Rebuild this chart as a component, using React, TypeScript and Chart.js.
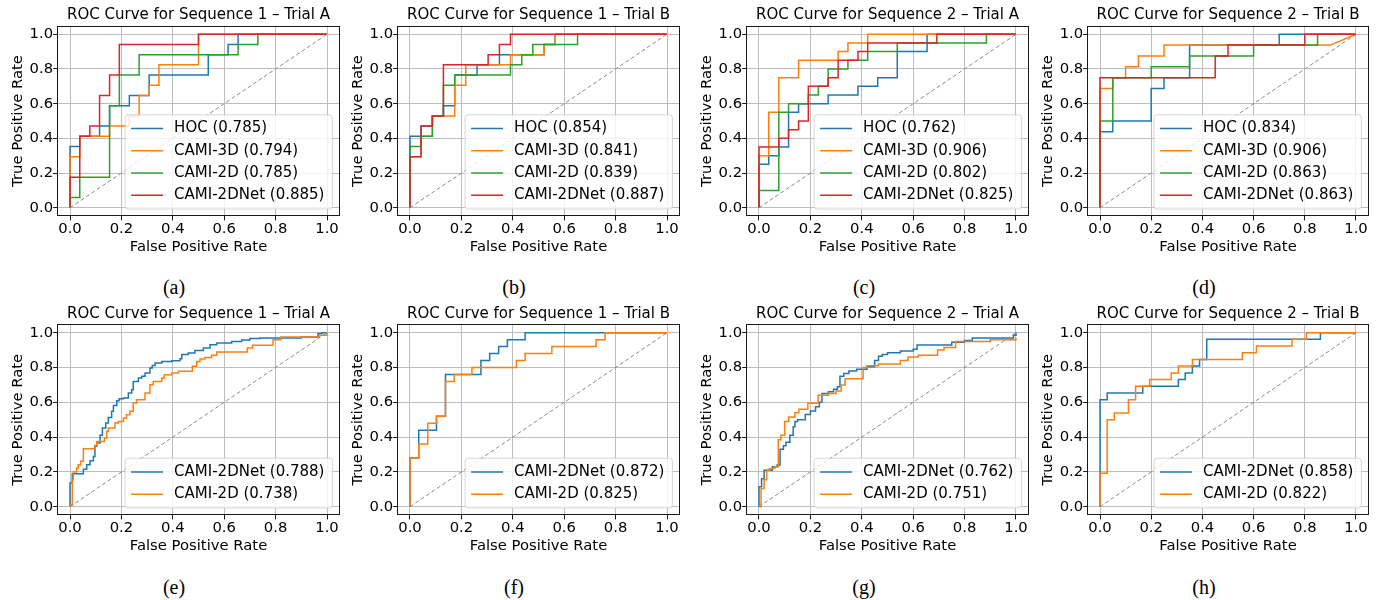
import React, { useEffect, useRef } from 'react';
import { Chart, registerables } from 'chart.js';
Chart.register(...registerables);

type Pt = [number, number];

// ---------- shared axis data ----------
const tickValues = [0, 0.2, 0.4, 0.6, 0.8, 1.0];
const tickLabels = ['0.0', '0.2', '0.4', '0.6', '0.8', '1.0'];
const diagonal: Pt[] = [[0, 0], [1, 1]];
const xAxisLabel = 'False Positive Rate';
const yAxisLabel = 'True Positive Rate';

const titles = [
  'ROC Curve for Sequence 1 – Trial A',
  'ROC Curve for Sequence 1 – Trial B',
  'ROC Curve for Sequence 2 – Trial A',
  'ROC Curve for Sequence 2 – Trial B',
];
const letters = ['(a)', '(b)', '(c)', '(d)', '(e)', '(f)', '(g)', '(h)'];

const namesTop = ['HOC', 'CAMI-3D', 'CAMI-2D', 'CAMI-2DNet'];
const namesBottom = ['CAMI-2DNet', 'CAMI-2D'];

const aucA = ['0.785', '0.794', '0.785', '0.885'];
const aucB = ['0.854', '0.841', '0.839', '0.887'];
const aucC = ['0.762', '0.906', '0.802', '0.825'];
const aucD = ['0.834', '0.906', '0.863', '0.863'];
const aucE = ['0.788', '0.738'];
const aucF = ['0.872', '0.825'];
const aucG = ['0.762', '0.751'];
const aucH = ['0.858', '0.822'];

// ---------- panel (a) ----------
const aHOC: Pt[] = [[0,0],[0,0.353],[0.038,0.353],[0.038,0.412],[0.115,0.412],[0.115,0.471],[0.154,0.471],[0.154,0.588],[0.231,0.588],[0.231,0.647],[0.308,0.647],[0.308,0.765],[0.538,0.765],[0.538,0.882],[0.615,0.882],[0.615,0.941],[0.654,0.941],[0.654,1],[1,1]];
const aCAMI3D: Pt[] = [[0,0],[0,0.294],[0.038,0.294],[0.038,0.412],[0.154,0.412],[0.154,0.471],[0.231,0.471],[0.231,0.529],[0.269,0.529],[0.269,0.647],[0.308,0.647],[0.308,0.706],[0.346,0.706],[0.346,0.824],[0.5,0.824],[0.5,1],[1,1]];
const aCAMI2D: Pt[] = [[0,0],[0,0.059],[0.038,0.059],[0.038,0.176],[0.154,0.176],[0.154,0.588],[0.192,0.588],[0.192,0.765],[0.269,0.765],[0.269,0.882],[0.654,0.882],[0.654,0.941],[0.731,0.941],[0.731,1],[1,1]];
const aNet: Pt[] = [[0,0],[0,0.176],[0.038,0.176],[0.038,0.412],[0.077,0.412],[0.077,0.471],[0.115,0.471],[0.115,0.647],[0.154,0.647],[0.154,0.765],[0.192,0.765],[0.192,0.941],[0.5,0.941],[0.5,1],[1,1]];

// ---------- panel (b) ----------
const bHOC: Pt[] = [[0,0],[0,0.412],[0.043,0.412],[0.043,0.471],[0.087,0.471],[0.087,0.529],[0.13,0.529],[0.13,0.588],[0.174,0.588],[0.174,0.765],[0.261,0.765],[0.261,0.824],[0.348,0.824],[0.348,0.882],[0.522,0.882],[0.522,0.941],[0.565,0.941],[0.565,1],[1,1]];
const bCAMI3D: Pt[] = [[0,0],[0,0.294],[0.043,0.294],[0.043,0.412],[0.087,0.412],[0.087,0.529],[0.174,0.529],[0.174,0.706],[0.217,0.706],[0.217,0.824],[0.391,0.824],[0.391,0.882],[0.522,0.882],[0.522,0.941],[0.565,0.941],[0.565,1],[1,1]];
const bCAMI2D: Pt[] = [[0,0],[0,0.353],[0.043,0.353],[0.043,0.412],[0.087,0.412],[0.087,0.529],[0.13,0.529],[0.13,0.706],[0.174,0.706],[0.174,0.765],[0.391,0.765],[0.391,0.824],[0.435,0.824],[0.435,0.882],[0.478,0.882],[0.478,0.941],[0.652,0.941],[0.652,1],[1,1]];
const bNet: Pt[] = [[0,0],[0,0.294],[0.043,0.294],[0.043,0.471],[0.087,0.471],[0.087,0.529],[0.13,0.529],[0.13,0.824],[0.304,0.824],[0.304,0.882],[0.348,0.882],[0.348,0.941],[0.391,0.941],[0.391,1],[1,1]];

// ---------- panel (c) ----------
const cHOC: Pt[] = [[0,0],[0,0.25],[0.038,0.25],[0.038,0.3],[0.077,0.3],[0.077,0.35],[0.115,0.35],[0.115,0.55],[0.154,0.55],[0.154,0.6],[0.269,0.6],[0.269,0.65],[0.385,0.65],[0.385,0.7],[0.462,0.7],[0.462,0.75],[0.538,0.75],[0.538,0.9],[0.654,0.9],[0.654,1],[1,1]];
const cCAMI3D: Pt[] = [[0,0],[0,0.3],[0.038,0.3],[0.038,0.55],[0.077,0.55],[0.077,0.75],[0.154,0.75],[0.154,0.85],[0.308,0.85],[0.308,0.9],[0.346,0.9],[0.346,0.95],[0.423,0.95],[0.423,1],[1,1]];
const cCAMI2D: Pt[] = [[0,0],[0,0.1],[0.077,0.1],[0.077,0.55],[0.115,0.55],[0.115,0.6],[0.192,0.6],[0.192,0.65],[0.231,0.65],[0.231,0.7],[0.269,0.7],[0.269,0.8],[0.346,0.8],[0.346,0.85],[0.423,0.85],[0.423,0.9],[0.538,0.9],[0.538,0.95],[0.885,0.95],[0.885,1],[1,1]];
const cNet: Pt[] = [[0,0],[0,0.35],[0.077,0.35],[0.077,0.4],[0.115,0.4],[0.115,0.45],[0.154,0.45],[0.154,0.5],[0.192,0.5],[0.192,0.7],[0.269,0.7],[0.269,0.75],[0.308,0.75],[0.308,0.85],[0.385,0.85],[0.385,0.9],[0.423,0.9],[0.423,0.95],[0.692,0.95],[0.692,1],[1,1]];

// ---------- panel (d) ----------
const dHOC: Pt[] = [[0,0],[0,0.4375],[0.05,0.4375],[0.05,0.5],[0.2,0.5],[0.2,0.6875],[0.25,0.6875],[0.25,0.75],[0.35,0.75],[0.35,0.9375],[0.7,0.9375],[0.7,1],[1,1]];
const dCAMI3D: Pt[] = [[0,0],[0,0.6875],[0.05,0.6875],[0.05,0.75],[0.1,0.75],[0.1,0.8125],[0.15,0.8125],[0.15,0.875],[0.25,0.875],[0.25,0.9375],[0.9,0.9375],[1,1]];
const dCAMI2D: Pt[] = [[0,0],[0,0.5],[0.05,0.5],[0.05,0.75],[0.2,0.75],[0.2,0.8125],[0.35,0.8125],[0.35,0.875],[0.6,0.875],[0.6,0.9375],[0.85,0.9375],[0.85,1],[1,1]];
const dNet: Pt[] = [[0,0],[0,0.75],[0.45,0.75],[0.45,0.875],[0.5,0.875],[0.5,0.9375],[0.8,0.9375],[0.8,1],[1,1]];

// ---------- panel (e) ----------
const eNet: Pt[] = [[0,0],[0,0.136],[0.009,0.136],[0.009,0.19],[0.052,0.19],[0.052,0.215],[0.065,0.215],[0.065,0.241],[0.078,0.241],[0.078,0.264],[0.091,0.264],[0.091,0.289],[0.097,0.289],[0.097,0.347],[0.104,0.347],[0.104,0.366],[0.117,0.366],[0.117,0.41],[0.126,0.41],[0.126,0.452],[0.139,0.452],[0.139,0.481],[0.149,0.481],[0.149,0.513],[0.162,0.513],[0.162,0.548],[0.169,0.548],[0.169,0.582],[0.182,0.582],[0.182,0.609],[0.191,0.609],[0.191,0.621],[0.208,0.621],[0.208,0.625],[0.227,0.625],[0.227,0.653],[0.24,0.653],[0.24,0.672],[0.246,0.672],[0.246,0.72],[0.266,0.72],[0.266,0.739],[0.279,0.739],[0.279,0.749],[0.292,0.749],[0.292,0.768],[0.311,0.768],[0.311,0.797],[0.32,0.797],[0.32,0.812],[0.331,0.812],[0.331,0.826],[0.357,0.826],[0.357,0.835],[0.396,0.835],[0.396,0.839],[0.428,0.839],[0.428,0.851],[0.435,0.851],[0.435,0.874],[0.46,0.874],[0.46,0.883],[0.486,0.883],[0.486,0.897],[0.519,0.897],[0.519,0.912],[0.545,0.912],[0.545,0.931],[0.571,0.931],[0.571,0.941],[0.629,0.941],[0.629,0.95],[0.668,0.95],[0.668,0.958],[0.7,0.958],[0.7,0.966],[0.739,0.966],[0.739,0.969],[0.9,0.969],[0.9,0.975],[0.965,0.975],[0.965,0.995],[0.98,0.995],[0.98,1],[1,1]];
const eCAMI2D: Pt[] = [[0,0],[0,0.01],[0.009,0.01],[0.009,0.155],[0.013,0.155],[0.013,0.199],[0.026,0.199],[0.026,0.222],[0.032,0.222],[0.032,0.241],[0.042,0.241],[0.042,0.261],[0.052,0.261],[0.052,0.333],[0.097,0.333],[0.097,0.352],[0.104,0.352],[0.104,0.375],[0.134,0.375],[0.134,0.395],[0.143,0.395],[0.143,0.433],[0.149,0.433],[0.149,0.452],[0.175,0.452],[0.175,0.481],[0.188,0.481],[0.188,0.49],[0.208,0.49],[0.208,0.51],[0.22,0.51],[0.22,0.529],[0.233,0.529],[0.233,0.548],[0.246,0.548],[0.246,0.596],[0.259,0.596],[0.259,0.615],[0.292,0.615],[0.292,0.653],[0.311,0.653],[0.311,0.701],[0.324,0.701],[0.324,0.72],[0.357,0.72],[0.357,0.739],[0.367,0.739],[0.367,0.759],[0.396,0.759],[0.396,0.768],[0.422,0.768],[0.422,0.778],[0.476,0.778],[0.476,0.807],[0.493,0.807],[0.493,0.835],[0.506,0.835],[0.506,0.849],[0.525,0.849],[0.525,0.858],[0.551,0.858],[0.551,0.87],[0.571,0.87],[0.571,0.889],[0.69,0.889],[0.69,0.912],[0.71,0.912],[0.71,0.928],[0.79,0.928],[0.79,0.96],[0.82,0.96],[0.82,0.975],[0.97,0.975],[0.97,0.985],[1,0.985],[1,1]];

// ---------- panel (f) ----------
const fNet: Pt[] = [[0,0],[0,0.28],[0.034,0.28],[0.034,0.44],[0.103,0.44],[0.103,0.52],[0.138,0.52],[0.138,0.76],[0.276,0.76],[0.276,0.84],[0.31,0.84],[0.31,0.88],[0.345,0.88],[0.345,0.92],[0.379,0.92],[0.379,0.96],[0.448,0.96],[0.448,1],[1,1]];
const fCAMI2D: Pt[] = [[0,0],[0,0.28],[0.034,0.28],[0.034,0.36],[0.069,0.36],[0.069,0.48],[0.103,0.48],[0.103,0.52],[0.138,0.52],[0.138,0.72],[0.172,0.72],[0.172,0.76],[0.241,0.76],[0.241,0.8],[0.414,0.8],[0.414,0.84],[0.448,0.84],[0.448,0.88],[0.552,0.88],[0.552,0.92],[0.724,0.92],[0.724,0.96],[0.759,0.96],[0.759,1],[1,1]];

// ---------- panel (g) ----------
const gNet: Pt[] = [[0,0],[0,0.115],[0.01,0.115],[0.01,0.16],[0.02,0.16],[0.02,0.21],[0.052,0.21],[0.052,0.23],[0.07,0.23],[0.07,0.24],[0.082,0.24],[0.082,0.33],[0.095,0.33],[0.095,0.35],[0.105,0.35],[0.105,0.37],[0.12,0.37],[0.12,0.41],[0.133,0.41],[0.133,0.46],[0.14,0.46],[0.14,0.49],[0.15,0.49],[0.15,0.5],[0.18,0.5],[0.18,0.53],[0.2,0.53],[0.2,0.55],[0.22,0.55],[0.22,0.575],[0.235,0.575],[0.235,0.6],[0.245,0.6],[0.245,0.65],[0.27,0.65],[0.27,0.66],[0.29,0.66],[0.29,0.675],[0.305,0.675],[0.305,0.69],[0.315,0.69],[0.315,0.75],[0.33,0.75],[0.33,0.765],[0.35,0.765],[0.35,0.78],[0.38,0.78],[0.38,0.79],[0.42,0.79],[0.42,0.805],[0.45,0.805],[0.45,0.84],[0.465,0.84],[0.465,0.865],[0.48,0.865],[0.48,0.875],[0.5,0.875],[0.5,0.885],[0.55,0.885],[0.55,0.895],[0.6,0.895],[0.6,0.905],[0.615,0.905],[0.615,0.93],[0.75,0.93],[0.75,0.945],[0.8,0.945],[0.8,0.955],[0.83,0.955],[0.83,0.97],[0.99,0.97],[0.99,0.985],[1,0.985],[1,1]];
const gCAMI2D: Pt[] = [[0,0],[0.008,0],[0.008,0.105],[0.02,0.105],[0.02,0.155],[0.03,0.155],[0.03,0.21],[0.04,0.21],[0.04,0.22],[0.062,0.22],[0.062,0.23],[0.075,0.23],[0.075,0.385],[0.085,0.385],[0.085,0.41],[0.1,0.41],[0.1,0.49],[0.115,0.49],[0.115,0.515],[0.14,0.515],[0.14,0.54],[0.155,0.54],[0.155,0.56],[0.19,0.56],[0.19,0.595],[0.23,0.595],[0.23,0.64],[0.27,0.64],[0.27,0.65],[0.3,0.65],[0.3,0.665],[0.32,0.665],[0.32,0.7],[0.335,0.7],[0.335,0.735],[0.405,0.735],[0.405,0.8],[0.42,0.8],[0.42,0.81],[0.465,0.81],[0.465,0.82],[0.55,0.82],[0.55,0.84],[0.58,0.84],[0.58,0.86],[0.62,0.86],[0.62,0.87],[0.695,0.87],[0.695,0.9],[0.72,0.9],[0.72,0.915],[0.765,0.915],[0.765,0.95],[0.9,0.95],[0.9,0.96],[1,0.96],[1,0.97]];

// ---------- panel (h) ----------
const hNet: Pt[] = [[0,0],[0,0.615],[0.028,0.615],[0.028,0.654],[0.167,0.654],[0.167,0.692],[0.306,0.692],[0.306,0.731],[0.333,0.731],[0.333,0.769],[0.361,0.769],[0.361,0.808],[0.389,0.808],[0.389,0.846],[0.417,0.846],[0.417,0.962],[0.861,0.962],[0.861,1],[1,1]];
const hCAMI2D: Pt[] = [[0,0],[0,0.192],[0.028,0.192],[0.028,0.5],[0.056,0.5],[0.056,0.538],[0.111,0.538],[0.111,0.615],[0.139,0.615],[0.139,0.692],[0.194,0.692],[0.194,0.731],[0.278,0.731],[0.278,0.769],[0.306,0.769],[0.306,0.808],[0.361,0.808],[0.361,0.846],[0.556,0.846],[0.556,0.885],[0.611,0.885],[0.611,0.923],[0.75,0.923],[0.75,0.962],[0.806,0.962],[0.806,1],[1,1]];

// ---------- styling ----------
const COLORS = ['#1f77b4', '#ff7f0e', '#2ca02c', '#d62728'];
const FONT = 'DejaVu Sans';
const TICK_SIZE = 14.8;
const TITLE_SIZE = 15;
const LEGEND_SIZE = 15;

interface PanelCfg {
  title: string;
  letter: string;
  names: string[];
  aucs: string[];
  series: Pt[][];
  area: { l: number; r: number; t: number; b: number };
  letterX: number;
  letterY: number;
}

const colX = [
  { l: 57.15, r: 339.85, lx: 174 },
  { l: 397.15, r: 679.85, lx: 514 },
  { l: 746.15, r: 1028.85, lx: 864 },
  { l: 1087.2, r: 1368.8, lx: 1204 },
];
const rowY = [
  { t: 25.6, b: 216.4, ly: 287 },
  { t: 324, b: 515.4, ly: 587 },
];

const topSeries = [
  [aHOC, aCAMI3D, aCAMI2D, aNet],
  [bHOC, bCAMI3D, bCAMI2D, bNet],
  [cHOC, cCAMI3D, cCAMI2D, cNet],
  [dHOC, dCAMI3D, dCAMI2D, dNet],
];
const bottomSeries = [
  [eNet, eCAMI2D],
  [fNet, fCAMI2D],
  [gNet, gCAMI2D],
  [hNet, hCAMI2D],
];
const topAucs = [aucA, aucB, aucC, aucD];
const bottomAucs = [aucE, aucF, aucG, aucH];

const panels: PanelCfg[] = [];
for (let row = 0; row < 2; row++) {
  for (let col = 0; col < 4; col++) {
    panels.push({
      title: titles[col],
      letter: letters[row * 4 + col],
      names: row === 0 ? namesTop : namesBottom,
      aucs: row === 0 ? topAucs[col] : bottomAucs[col],
      series: row === 0 ? topSeries[col] : bottomSeries[col],
      area: { l: colX[col].l, r: colX[col].r, t: rowY[row].t, b: rowY[row].b },
      letterX: colX[col].lx,
      letterY: rowY[row].ly,
    });
  }
}

function makeOverlay(labels: string[], colors: string[]) {
  return {
    id: 'mplOverlay',
    afterDatasetsDraw(chart: any) {
      const { ctx, chartArea: a } = chart;
      ctx.save();
      // full box frame (matplotlib spines)
      ctx.strokeStyle = '#1a1a1a';
      ctx.lineWidth = 1;
      ctx.strokeRect(Math.round(a.left) + 0.5, Math.round(a.top) + 0.5, Math.round(a.right) - Math.round(a.left) - 1, Math.round(a.bottom) - Math.round(a.top) - 1);
      // legend
      ctx.font = `${LEGEND_SIZE}px "${FONT}"`;
      const tw = Math.max(...labels.map((l) => ctx.measureText(l).width));
      const n = labels.length;
      const pitch = 22.2;
      const edge = 13.8;
      const w = tw + 57;
      const h = (n - 1) * pitch + 2 * edge;
      const right = a.right - 7.4;
      const bottom = a.bottom - 7.4;
      const left = right - w;
      const top = bottom - h;
      ctx.beginPath();
      (ctx as any).roundRect(left, top, w, h, 3);
      ctx.fillStyle = 'rgba(255,255,255,0.8)';
      ctx.fill();
      ctx.strokeStyle = 'rgba(204,204,204,0.8)';
      ctx.lineWidth = 1;
      ctx.stroke();
      labels.forEach((l, i) => {
        const y = top + edge + i * pitch;
        ctx.strokeStyle = colors[i];
        ctx.lineWidth = 1.5;
        ctx.beginPath();
        ctx.moveTo(left + 6, y);
        ctx.lineTo(left + 38, y);
        ctx.stroke();
        ctx.fillStyle = '#000';
        ctx.textBaseline = 'middle';
        ctx.textAlign = 'left';
        ctx.fillText(l, left + 49, y);
      });
      ctx.restore();
    },
  };
}

function Panel({ p }: { p: PanelCfg }) {
  const ref = useRef<HTMLCanvasElement>(null);
  const cl = Math.floor(p.area.l - 57.15);
  const ct = Math.floor(p.area.t - 25.6);
  const cw = Math.ceil(p.area.r + 6) - cl;
  const ch = Math.ceil(p.area.b + 39.6) - ct;

  useEffect(() => {
    const yW = p.area.l - cl;
    const xH = ct + ch - p.area.b;
    const padR = cl + cw - p.area.r;
    const titleTop = p.area.t - ct - TITLE_SIZE * 1.2 - 1;
    const yTitlePad = yW - 38.85 - TICK_SIZE * 0.6;
    const n = p.series.length;
    const labels = p.names.map((nm, i) => `${nm} (${p.aucs[i]})`);
    const colors = COLORS.slice(0, n);
    const tickFont = { family: FONT, size: TICK_SIZE, lineHeight: 1.2 };
    const datasets: any[] = p.series.map((s, i) => ({
      label: labels[i],
      data: s.map(([x, y]) => ({ x, y })),
      borderColor: colors[i],
      borderWidth: 1.5,
      pointRadius: 0,
      tension: 0,
      fill: false,
      order: n - i,
    }));
    datasets.push({
      label: 'chance',
      data: diagonal.map(([x, y]) => ({ x, y })),
      borderColor: '#8a8a8a',
      borderWidth: 1,
      borderDash: [4, 2.5],
      pointRadius: 0,
      fill: false,
      order: 0,
    });
    const axisBase = (label: string, isX: boolean) => ({
      type: 'linear' as const,
      min: -0.05,
      max: 1.05,
      afterBuildTicks: (s: any) => {
        s.ticks = tickValues.map((v) => ({ value: v }));
      },
      afterFit: (s: any) => {
        if (isX) s.height = xH;
        else s.width = yW;
      },
      ticks: {
        callback: (_v: any, i: number) => tickLabels[i],
        autoSkip: false,
        maxRotation: 0,
        padding: 0,
        color: '#000',
        font: tickFont,
      },
      grid: {
        color: '#bdbdbd',
        lineWidth: 1,
        drawTicks: true,
        tickLength: 4,
        tickColor: '#1a1a1a',
        tickWidth: 1,
      },
      border: { display: false },
      title: {
        display: true,
        text: label,
        color: '#000',
        font: tickFont,
        padding: isX ? { top: 0, bottom: 0 } : { top: yTitlePad, bottom: 0 },
      },
    });
    const chart = new Chart(ref.current as HTMLCanvasElement, {
      type: 'line',
      data: { datasets },
      options: {
        animation: false,
        responsive: false,
        devicePixelRatio: 1,
        events: [],
        layout: { padding: { left: 0, top: 0, bottom: 0, right: padR } },
        scales: {
          x: axisBase(xAxisLabel, true) as any,
          y: axisBase(yAxisLabel, false) as any,
        },
        plugins: {
          legend: { display: false },
          tooltip: { enabled: false },
          title: {
            display: true,
            text: p.title,
            color: '#000',
            fullSize: false,
            font: { family: FONT, size: TITLE_SIZE, lineHeight: 1.2, weight: 'normal' as any },
            padding: { top: titleTop, bottom: 1 },
          },
        },
      },
      plugins: [makeOverlay(labels, colors)],
    });
    return () => chart.destroy();
  }, []);

  return (
    <>
      <canvas
        ref={ref}
        width={cw}
        height={ch}
        style={{ position: 'absolute', left: cl, top: ct, width: cw, height: ch }}
      />
      <div
        style={{
          position: 'absolute',
          left: p.letterX - 40,
          top: p.letterY - 14,
          width: 80,
          height: 28,
          lineHeight: '28px',
          textAlign: 'center',
          fontFamily: '"Liberation Serif", "Times New Roman", serif',
          fontSize: 20,
          color: '#000',
        }}
      >
        {p.letter}
      </div>
    </>
  );
}

export default function App() {
  return (
    <div
      style={{
        position: 'absolute',
        left: 0,
        top: 0,
        width: 1379,
        height: 600,
        background: '#fff',
        overflow: 'hidden',
      }}
    >
      {panels.map((p, i) => (
        <Panel key={i} p={p} />
      ))}
    </div>
  );
}
